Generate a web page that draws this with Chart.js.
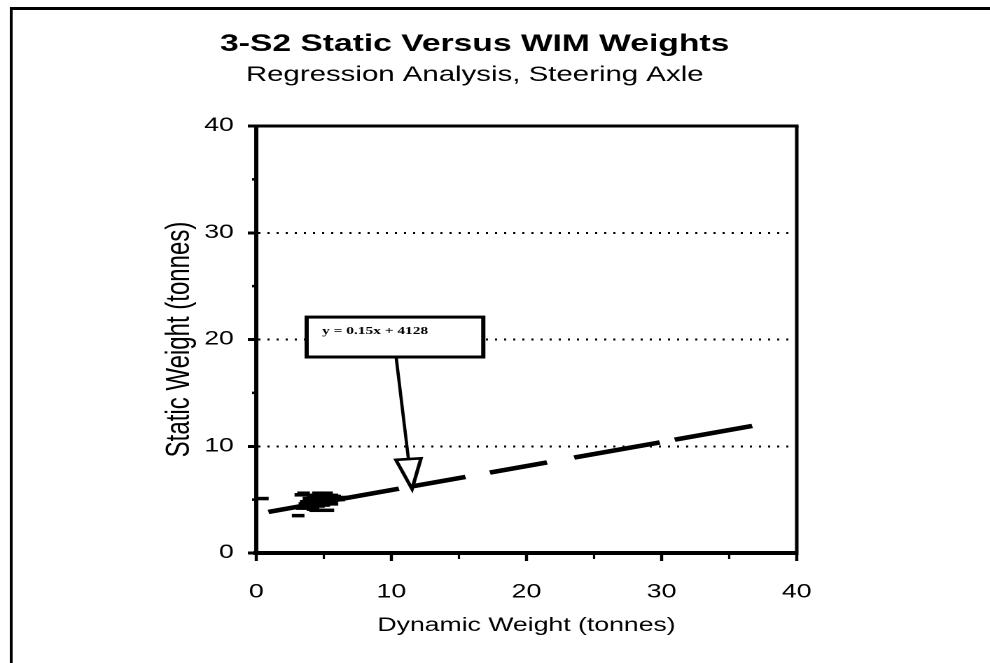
<!DOCTYPE html>
<html>
<head>
<meta charset="utf-8">
<script src="https://cdn.jsdelivr.net/npm/chart.js@4/dist/chart.umd.min.js"></script>
<style>
  html, body { margin: 0; padding: 0; background: #fff; overflow: hidden; }
  #c { display: block; width: 990px; height: 663px; }
</style>
</head>
<body>
<canvas id="c" width="707" height="663" style="width:990px;height:663px;"></canvas>
<script>
// ---- data ----
const chartTitle = '3-S2 Static Versus WIM Weights';
const chartSubtitle = 'Regression Analysis, Steering Axle';
const xAxisTitle = 'Dynamic Weight (tonnes)';
const yAxisTitle = 'Static Weight (tonnes)';
const tickLabels = [0, 10, 20, 30, 40];
const minorTicks = [5, 15, 25, 35];

// observed axle weights: dynamic (WIM) vs static, tonnes
const dynamicWeight = [0.45, 3.5, 3.3, 3.1, 5.3, 3.6, 3.8, 4.0, 4.1, 4.2, 4.3, 4.4, 4.5, 4.6, 4.7, 4.8, 4.9, 5.0, 5.0, 5.1, 5.2, 5.3, 5.4, 5.5, 5.6, 5.7, 5.8, 4.2, 4.4, 3.9, 4.6, 5.2, 6.0, 6.3, 3.4, 4.5, 4.9, 5.1, 4.7,
                       4.0, 4.3, 4.6, 4.9, 5.2, 5.5, 4.1, 4.4, 4.7, 5.0, 5.3, 5.6, 3.7, 4.8, 5.4, 4.5, 4.2, 5.1, 4.9, 5.7, 6.1];
const staticWeight  = [5.1, 5.6, 5.45, 3.5, 4.0, 4.6, 4.4, 4.8, 4.3, 5.0, 4.6, 5.2, 4.9, 4.4, 5.3, 4.7, 5.0, 5.4, 4.5, 5.1, 4.8, 5.3, 4.9, 5.2, 4.6, 5.0, 5.3, 4.1, 4.0, 5.1, 5.6, 5.6, 5.1, 5.2, 4.2, 4.6, 4.5, 4.9, 5.0,
                       4.5, 4.8, 5.1, 5.3, 5.0, 4.8, 4.7, 4.5, 4.9, 5.2, 5.1, 5.4, 4.8, 5.5, 5.1, 5.3, 5.4, 5.5, 4.7, 5.2, 5.0];

// regression line end points as drawn
const trendDynamic = [0.9, 36.7];
const trendStatic  = [3.85, 11.9];

// callout: equation label, box corners (x1, y1, x2, y2) and arrow in data units
const equationText = 'y = 0.15x + 4128';
const calloutBox = [3.73, 22.1, 16.8, 18.36];
const arrowStart = [10.35, 18.36];
const arrowTip   = [11.53, 6.0];

// ---- chart ----
Chart.defaults.font.family = "'Liberation Sans', Arial, Helvetica, sans-serif";
Chart.defaults.color = '#000';

const points = dynamicWeight.map((d, i) => ({ x: d, y: staticWeight[i] }));
const trend = trendDynamic.map((d, i) => ({ x: d, y: trendStatic[i] }));

const decorPlugin = {
  id: 'decor',
  beforeDraw(chart) {
    const { ctx, width, height } = chart;
    ctx.save();
    ctx.fillStyle = '#fff';
    ctx.fillRect(0, 0, width, height);
    ctx.strokeStyle = '#000';
    ctx.lineWidth = 3;
    ctx.beginPath(); ctx.moveTo(7, 8.5); ctx.lineTo(width, 8.5); ctx.stroke();
    ctx.lineWidth = 2;
    ctx.beginPath(); ctx.moveTo(8, 7); ctx.lineTo(8, height); ctx.stroke();
    ctx.restore();
  },
  afterDraw(chart) {
    const { ctx, chartArea: a, scales: { x, y } } = chart;
    ctx.save();
    ctx.strokeStyle = '#000';
    // top and right frame of plot area
    ctx.lineWidth = 3;
    ctx.beginPath(); ctx.moveTo(a.left - 1, a.top); ctx.lineTo(a.right + 1.25, a.top); ctx.stroke();
    ctx.lineWidth = 2.5;
    ctx.beginPath(); ctx.moveTo(a.right, a.top); ctx.lineTo(a.right, a.bottom + 2); ctx.stroke();

    // minor tick marks
    minorTicks.forEach(v => {
      const px = x.getPixelForValue(v);
      ctx.lineWidth = 1.6;
      ctx.beginPath(); ctx.moveTo(px, a.bottom); ctx.lineTo(px, a.bottom + 6); ctx.stroke();
      const py = y.getPixelForValue(v);
      ctx.lineWidth = 2.5;
      ctx.beginPath(); ctx.moveTo(a.left - 3, py); ctx.lineTo(a.left, py); ctx.stroke();
    });

    // callout box
    const bx1 = x.getPixelForValue(calloutBox[0]);
    const by1 = y.getPixelForValue(calloutBox[1]);
    const bx2 = x.getPixelForValue(calloutBox[2]);
    const by2 = y.getPixelForValue(calloutBox[3]);
    ctx.fillStyle = '#fff';
    ctx.fillRect(bx1, by1, bx2 - bx1, by2 - by1);
    ctx.lineWidth = 3;
    ctx.strokeRect(bx1, by1, bx2 - bx1, by2 - by1);
    ctx.fillStyle = '#000';
    ctx.font = "bold 11px 'Liberation Serif', 'Times New Roman', serif";
    ctx.textAlign = 'left';
    ctx.textBaseline = 'middle';
    ctx.fillText(equationText, bx1 + 11, by1 + 14);

    // arrow
    const sx = x.getPixelForValue(arrowStart[0]);
    const sy = y.getPixelForValue(arrowStart[1]);
    const tx = x.getPixelForValue(arrowTip[0]);
    const ty = y.getPixelForValue(arrowTip[1]);
    const dx = tx - sx, dy = ty - sy;
    const len = Math.hypot(dx, dy);
    const ux = dx / len, uy = dy / len;
    const headLen = 30, headHalf = 9;
    const hx = tx - ux * headLen, hy = ty - uy * headLen;
    ctx.lineWidth = 2.3;
    ctx.beginPath(); ctx.moveTo(sx, sy); ctx.lineTo(hx, hy); ctx.stroke();
    ctx.beginPath();
    ctx.moveTo(hx - uy * headHalf, hy + ux * headHalf);
    ctx.lineTo(hx + uy * headHalf, hy - ux * headHalf);
    ctx.lineTo(tx, ty);
    ctx.closePath();
    ctx.fillStyle = '#fff';
    ctx.fill();
    ctx.lineWidth = 2.6;
    ctx.lineJoin = 'miter';
    ctx.stroke();
    ctx.restore();
  }
};

new Chart(document.getElementById('c'), {
  type: 'scatter',
  data: {
    datasets: [
      {
        label: 'Regression',
        data: trend,
        showLine: true,
        borderColor: '#000',
        borderWidth: 4.5,
        borderDash: [96, 9, 40, 18, 42, 20, 63, 11, 57],
        borderCapStyle: 'butt',
        pointRadius: 0,
        fill: false,
        order: 2
      },
      {
        label: 'Observations',
        data: points,
        showLine: false,
        pointStyle: 'line',
        pointRadius: 4.5,
        borderColor: '#000',
        backgroundColor: '#000',
        pointBorderWidth: 3.5,
        order: 1
      }
    ]
  },
  options: {
    responsive: false,
    devicePixelRatio: 2,
    animation: false,
    events: [],
    layout: { padding: { left: 109, right: 138, top: 0, bottom: 20 } },
    plugins: {
      legend: { display: false },
      tooltip: { enabled: false },
      title: {
        display: true,
        text: chartTitle,
        color: '#000',
        font: { size: 24, weight: 'bold', lineHeight: 1.2 },
        padding: { top: 30, bottom: 0 }
      },
      subtitle: {
        display: true,
        text: chartSubtitle,
        color: '#000',
        font: { size: 21, weight: 'normal', lineHeight: 1.2 },
        padding: { top: 4, bottom: 38 }
      }
    },
    scales: {
      x: {
        type: 'linear',
        position: 'bottom',
        min: 0,
        max: 40,
        afterFit(scale) { scale.height = 90; },
        ticks: {
          stepSize: 10,
          autoSkip: false,
          maxRotation: 0,
          padding: 20,
          color: '#000',
          font: { size: 19 }
        },
        grid: {
          drawOnChartArea: false,
          drawTicks: true,
          tickLength: 8,
          tickColor: '#000',
          tickWidth: 2.2
        },
        border: { display: true, color: '#000', width: 4 },
        title: {
          display: true,
          text: xAxisTitle,
          color: '#000',
          font: { size: 19 },
          padding: { top: 0, bottom: 6 }
        }
      },
      y: {
        type: 'linear',
        position: 'left',
        min: 0,
        max: 40,
        afterFit(scale) { scale.width = 74; },
        ticks: {
          stepSize: 10,
          autoSkip: false,
          padding: 10,
          color: '#000',
          font: { size: 19 }
        },
        grid: {
          drawOnChartArea: true,
          drawTicks: true,
          tickLength: 6,
          color: '#000',
          lineWidth: ctx => (ctx.tick && ctx.tick.value > 0 && ctx.tick.value < 40) ? 2 : 0,
          tickColor: '#000',
          tickWidth: 3
        },
        border: { display: true, color: '#000', width: 3, dash: [1.5, 5] },
        title: {
          display: true,
          text: yAxisTitle,
          color: '#000',
          font: { size: 24 },
          padding: { top: 5, bottom: 0 }
        }
      }
    }
  },
  plugins: [decorPlugin]
});
</script>
</body>
</html>
